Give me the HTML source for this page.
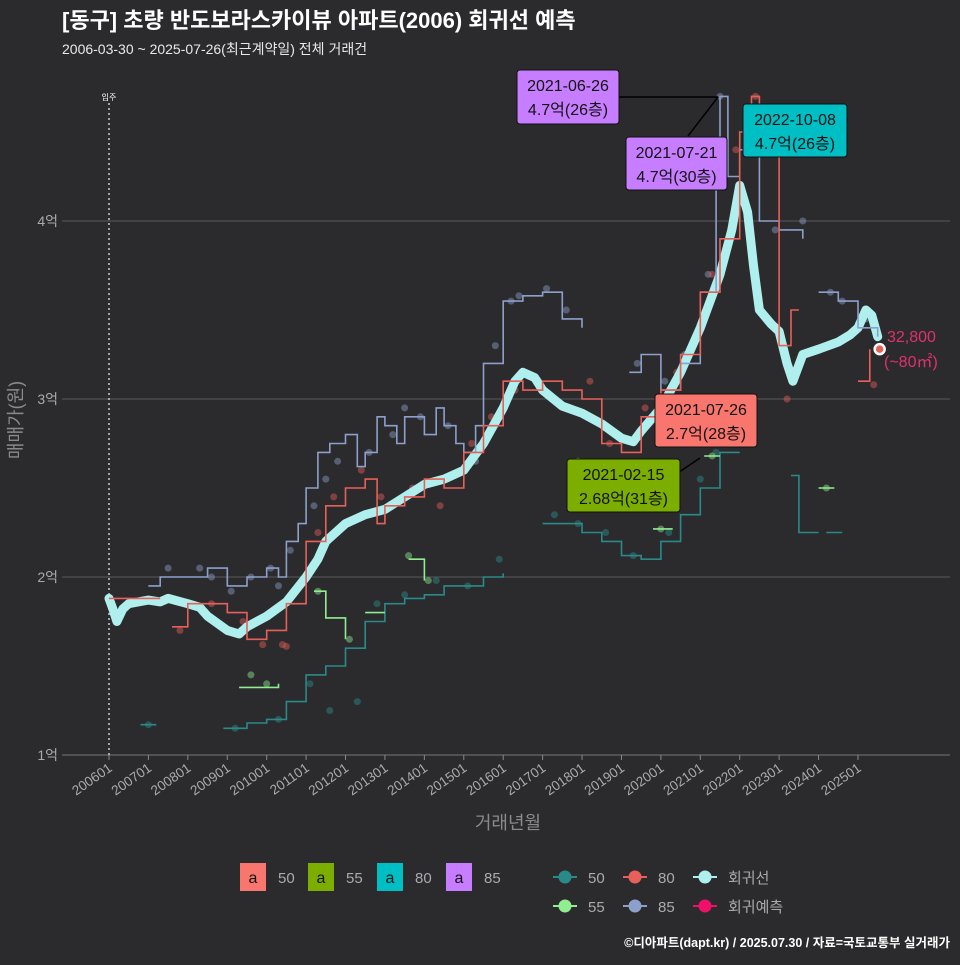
<!DOCTYPE html>
<html><head><meta charset="utf-8">
<style>
html,body{margin:0;padding:0;background:#2b2b2d;}
body{width:960px;height:960px;overflow:hidden;font-family:"Liberation Sans","Noto Sans CJK KR",sans-serif;}
svg text{font-family:"Liberation Sans","Noto Sans CJK KR",sans-serif;}
</style></head>
<body>
<svg id="chart" width="960" height="960" xmlns="http://www.w3.org/2000/svg">
<rect width="960" height="960" fill="#2b2b2d"/>
<text x="62" y="28" fill="#ffffff" font-size="22" font-weight="bold">[동구] 초량 반도보라스카이뷰 아파트(2006) 회귀선 예측</text>
<text x="62" y="54" fill="#e8e8e8" font-size="14">2006-03-30 ~ 2025-07-26(최근계약일) 전체 거래건</text>
<g id="grid"></g>
<g id="series"></g>
<g id="annot"></g>
<text transform="translate(22,420) rotate(-90)" text-anchor="middle" fill="#8a8a8a" font-size="18">매매가(원)</text>
<text x="508" y="829" text-anchor="middle" fill="#8a8a8a" font-size="18">거래년월</text>
<g id="legend"></g>
<text x="950" y="947" text-anchor="end" fill="#ffffff" font-size="12.5" font-weight="bold">©디아파트(dapt.kr) / 2025.07.30 / 자료=국토교통부 실거래가</text>
</svg>
<script>
const yTicks=[1,2,3,4];
const yTickLabels=["1억","2억","3억","4억"];
const xTickYears=[2006,2007,2008,2009,2010,2011,2012,2013,2014,2015,2016,2017,2018,2019,2020,2021,2022,2023,2024,2025];
const xTickLabels=["200601","200701","200801","200901","201001","201101","201201","201301","201401","201501","201601","201701","201801","201901","202001","202101","202201","202301","202401","202501"];
// regression line
const regT=[2006.0,2006.1,2006.2,2006.35,2006.5,2007,2007.3,2007.5,2008,2008.3,2008.5,2009,2009.3,2009.5,2010,2010.5,2011,2011.3,2011.5,2012,2012.5,2013,2013.5,2014,2014.5,2015,2015.5,2016,2016.3,2016.5,2016.8,2017,2017.5,2018,2018.5,2019,2019.3,2019.5,2020,2020.5,2021,2021.5,2021.8,2022,2022.2,2022.35,2022.5,2022.8,2023,2023.2,2023.35,2023.6,2024,2024.5,2024.8,2025,2025.2,2025.35,2025.5];
const regV=[1.88,1.82,1.75,1.82,1.85,1.87,1.86,1.88,1.85,1.83,1.78,1.7,1.68,1.72,1.78,1.86,2.0,2.1,2.2,2.3,2.35,2.38,2.45,2.52,2.55,2.6,2.75,2.95,3.1,3.15,3.12,3.05,2.96,2.92,2.86,2.78,2.76,2.82,2.95,3.15,3.4,3.7,3.95,4.2,4.05,3.75,3.5,3.42,3.38,3.2,3.1,3.25,3.28,3.32,3.36,3.4,3.5,3.47,3.35];
// 85㎡
const s85T=[2007.0,2007.3,2008,2008.5,2009,2009.5,2010,2010.3,2010.5,2010.8,2011,2011.3,2011.6,2012,2012.3,2012.5,2012.8,2013,2013.3,2013.5,2014,2014.3,2014.5,2014.8,2015,2015.3,2015.5,2016,2016.5,2017,2017.5,2018,null,2019.2,2019.5,2020,2020.5,2021,2021.4,2021.5,2021.7,2022,2022.5,2023,2023.6,null,2024,2024.5,2025,2025.5];
const s85V=[1.95,2.0,2.0,2.05,1.95,2.0,2.05,2.0,2.2,2.3,2.5,2.7,2.75,2.8,2.62,2.7,2.9,2.85,2.75,2.9,2.8,2.95,2.85,2.75,2.7,2.85,3.2,3.55,3.58,3.6,3.45,3.4,null,3.15,3.25,3.05,3.2,3.6,4.2,4.7,4.25,4.4,4.0,3.95,3.9,null,3.6,3.55,3.4,3.35];
// 80㎡
const s80T=[2006.0,2007.3,null,2007.6,2008,2008.5,2009,2009.5,2010,2010.5,2011,2011.5,2012,2012.5,2012.8,2013,2013.5,2014,2014.5,2015,2015.5,2016,2016.5,2017,2017.5,2018,2018.5,2019,2019.5,2020,2020.5,2021,2021.5,2022,2022.3,2022.5,2023,2023.3,2023.5,null,2025.0,2025.3];
const s80V=[1.88,1.88,null,1.72,1.85,1.85,1.8,1.65,1.7,1.85,2.2,2.4,2.5,2.55,2.3,2.4,2.45,2.55,2.5,2.7,2.85,3.1,3.05,3.1,3.05,3.0,2.75,2.7,2.9,3.05,3.25,3.6,3.9,4.5,4.7,4.4,3.3,3.5,3.5,null,3.1,3.28];
// 50㎡
const s50T=[2006.8,2007.2,null,2008.9,2009.5,2010,2010.5,2011,2011.5,2012,2012.5,2013,2013.5,2014,2014.5,2015,2015.5,2016,null,2017.0,2017.5,2018,2018.5,2019,2019.5,2020,2020.5,2021,2021.5,2022,null,2023.3,2023.5,2024,null,2024.2,2024.6];
const s50V=[1.17,1.17,null,1.15,1.18,1.2,1.3,1.45,1.5,1.6,1.75,1.85,1.88,1.9,1.95,1.95,2.0,2.02,null,2.3,2.3,2.25,2.2,2.12,2.1,2.2,2.35,2.5,2.7,2.7,null,2.57,2.25,2.25,null,2.25,2.25];
// 55㎡
const s55T=[2009.3,2010.3,null,2011.2,2011.5,2012.0,null,2012.5,2013.0,null,2013.6,2014.0,null,2017.8,2018.2,null,2019.8,2020.3,null,2021.1,2021.5,null,2024.0,2024.4];
const s55V=[1.38,1.4,null,1.92,1.77,1.65,null,1.8,1.8,null,2.1,1.98,null,2.65,2.65,null,2.27,2.27,null,2.68,2.68,null,2.5,2.5];
// scatter points
const pt85T=[2007.5,2008.3,2008.6,2009.1,2009.6,2010.1,2010.3,2010.6,2011.2,2011.5,2011.8,2012.6,2013.2,2013.5,2013.9,2014.6,2015.3,2015.8,2016.2,2016.4,2017.1,2017.6,2019.4,2020.1,2020.6,2021.2,2021.5,2022.9,2023.6,2024.3,2024.6,2025.2];
const pt85V=[2.05,2.05,2.0,1.92,2.0,2.05,1.95,2.15,2.4,2.55,2.65,2.7,2.8,2.95,2.9,2.85,2.65,3.3,3.55,3.58,3.62,3.5,3.2,3.1,3.25,3.7,4.7,3.95,4.0,3.6,3.55,3.45];
const pt80T=[2007.8,2008.6,2009.4,2009.9,2010.4,2010.5,2011.3,2011.7,2012.4,2012.9,2013.7,2014.4,2015.2,2015.7,2016.3,2016.9,2017.4,2018.2,2018.7,2019.6,2020.4,2021.3,2021.9,2022.4,2023.2,2025.4];
const pt80V=[1.7,1.85,1.75,1.62,1.62,1.61,2.25,2.45,2.6,2.45,2.5,2.4,2.75,2.9,3.05,3.1,2.98,3.1,2.75,2.95,3.15,3.7,4.4,4.7,3.0,3.08];
const pt50T=[2007.0,2009.2,2010.3,2011.1,2011.6,2012.3,2012.8,2013.5,2014.3,2015.1,2015.9,2017.3,2017.9,2018.6,2019.3,2020.2,2021.0,2021.4];
const pt50V=[1.17,1.15,1.2,1.4,1.25,1.3,1.85,1.9,1.98,1.95,2.1,2.35,2.3,2.25,2.12,2.25,2.55,2.7];
const pt55T=[2009.6,2010.0,2011.3,2012.1,2013.6,2014.1,2017.9,2020.0,2021.3,2024.2];
const pt55V=[1.45,1.4,1.92,1.65,2.12,1.98,2.65,2.27,2.68,2.5];
const predT=[2025.55];
const predV=[3.28];

const NS="http://www.w3.org/2000/svg";
function X(t){return 109+(t-2006)*39.42;}
function Y(v){return 755-(v-1)*178;}
function mk(tag,attrs,parent){const e=document.createElementNS(NS,tag);for(const k in attrs)e.setAttribute(k,attrs[k]);parent.appendChild(e);return e;}
const grid=document.getElementById('grid');
yTicks.forEach((v,i)=>{
  const l=mk('line',{x1:62,x2:950,y1:Y(v),y2:Y(v),stroke:(v===1?'#777':'#5a5a5a'),'stroke-width':1},grid);
  
  
  const t=mk('text',{x:58,y:Y(v)+5,'text-anchor':'end',fill:'#aaaaaa','font-size':14},grid);
  t.textContent=yTickLabels[i];
  
  
});
xTickYears.forEach((yr,i)=>{
  const x=X(yr);
  mk('line',{x1:x,x2:x,y1:755,y2:760,stroke:'#888'},grid);
  const t=mk('text',{transform:`translate(${x+4},${770}) rotate(-35)`,'text-anchor':'end',fill:'#aaaaaa','font-size':13.5},grid);
  t.textContent=xTickLabels[i];
  
  
});
const mv=mk('line',{x1:109,x2:109,y1:103,y2:755,stroke:'#cccccc','stroke-dasharray':'2,3','stroke-width':1.5},grid);


const mvt=mk('text',{x:109,y:100,'text-anchor':'middle',fill:'#ffffff','font-size':8},grid);
mvt.textContent='입주';



const S=document.getElementById('series');
function pathD(T,V){let d='',pen=false;for(let i=0;i<T.length;i++){if(T[i]===null){pen=false;continue;}d+=(pen?'L':'M')+X(T[i]).toFixed(1)+','+Y(V[i]).toFixed(1);pen=true;}return d;}
function stepD(T,V){let d='',pen=false,py=0;for(let i=0;i<T.length;i++){if(T[i]===null){pen=false;continue;}const x=X(T[i]).toFixed(1),y=Y(V[i]).toFixed(1);if(!pen){d+='M'+x+','+y;}else{d+='L'+x+','+py+'L'+x+','+y;}py=y;pen=true;}return d;}
function pts(T,V,col,name){T.forEach((t,i)=>{const c=mk('circle',{cx:X(t),cy:Y(V[i]),r:3.5,fill:col,opacity:0.45},S);});}
pts(pt85T,pt85V,'#8da0cb','point-85');
pts(pt80T,pt80V,'#e8605a','point-80');
pts(pt50T,pt50V,'#2a9090','point-50');
pts(pt55T,pt55V,'#90ee90','point-55');
const reg=mk('path',{d:pathD(regT,regV),fill:'none',stroke:'#aff0ee','stroke-width':9,'stroke-linejoin':'round','stroke-linecap':'round'},S);


[[s50T,s50V,'#2a8a8a','line-50'],[s55T,s55V,'#90ee90','line-55'],[s85T,s85V,'#8da0cb','line-85'],[s80T,s80V,'#e8605a','line-80']].forEach(a=>{
  const p=mk('path',{d:stepD(a[0],a[1]),fill:'none',stroke:a[2],'stroke-width':1.6},S);
  
  
});
predT.forEach((t,i)=>{
  const c=mk('circle',{cx:X(t),cy:Y(predV[i]),r:5,fill:'#e8605a',stroke:'#ffffff','stroke-width':2.5},S);
  
  
});

const A=document.getElementById('annot');
function box(x,y,w,h,fill,l1,l2,name){
  const g=mk('g',{},A);
  
  
  mk('rect',{x:x,y:y,width:w,height:h,rx:3,fill:fill,stroke:'#111','stroke-width':1},g);
  const t1=mk('text',{x:x+w/2,y:y+21,'text-anchor':'middle',fill:'#111','font-size':16},g);t1.textContent=l1;
  const t2=mk('text',{x:x+w/2,y:y+45,'text-anchor':'middle',fill:'#111','font-size':16},g);t2.textContent=l2;
}
mk('line',{x1:619,y1:97,x2:718,y2:97,stroke:'#000','stroke-width':1.5},A);
mk('line',{x1:688,y1:136,x2:718,y2:97,stroke:'#000','stroke-width':1.5},A);
mk('line',{x1:660,y1:485,x2:700,y2:458,stroke:'#000','stroke-width':1.5},A);
box(517,70,102,54,'#c77dff','2021-06-26','4.7억(26층)','annotation-2021-06-26');
box(626,137,101,53,'#c77dff','2021-07-21','4.7억(30층)','annotation-2021-07-21');
box(743,104,104,53,'#00bfc4','2022-10-08','4.7억(26층)','annotation-2022-10-08');
box(655,394,102,53,'#f8766d','2021-07-26','2.7억(28층)','annotation-2021-07-26');
box(567,459,113,53,'#7cae00','2021-02-15','2.68억(31층)','annotation-2021-02-15');
const pv=mk('text',{x:887,y:342,fill:'#e0316b','font-size':16},A);pv.textContent='32,800';

const pa=mk('text',{x:884,y:367,fill:'#e0316b','font-size':16},A);pa.textContent='(~80㎡)';


const L=document.getElementById('legend');
const lgBox=[[240,'#f8766d','50'],[308,'#7cae00','55'],[377,'#00bfc4','80'],[446,'#c77dff','85']];
lgBox.forEach(b=>{
  const g=mk('g',{},L);
  
  
  mk('rect',{x:b[0],y:863,width:26,height:28,fill:b[1]},g);
  const a=mk('text',{x:b[0]+13,y:883,'text-anchor':'middle',fill:'#111','font-size':16},g);a.textContent='a';
  const t=mk('text',{x:b[0]+38,y:883,fill:'#aaaaaa','font-size':15},g);t.textContent=b[2];
});
const lgLine=[[565,877,'#2a8a8a','50'],[635,877,'#e8605a','80'],[705,877,'#aff0ee','회귀선'],[565,906,'#90ee90','55'],[635,906,'#8da0cb','85'],[705,906,'#f0106a','회귀예측']];
lgLine.forEach(b=>{
  const g=mk('g',{},L);
  
  
  mk('line',{x1:b[0]-12,x2:b[0]+12,y1:b[1],y2:b[1],stroke:b[2],'stroke-width':2},g);
  mk('circle',{cx:b[0],cy:b[1],r:6.5,fill:b[2]},g);
  const t=mk('text',{x:b[0]+23,y:b[1]+6,fill:'#aaaaaa','font-size':15},g);t.textContent=b[3];
});
</script>
</body></html>
